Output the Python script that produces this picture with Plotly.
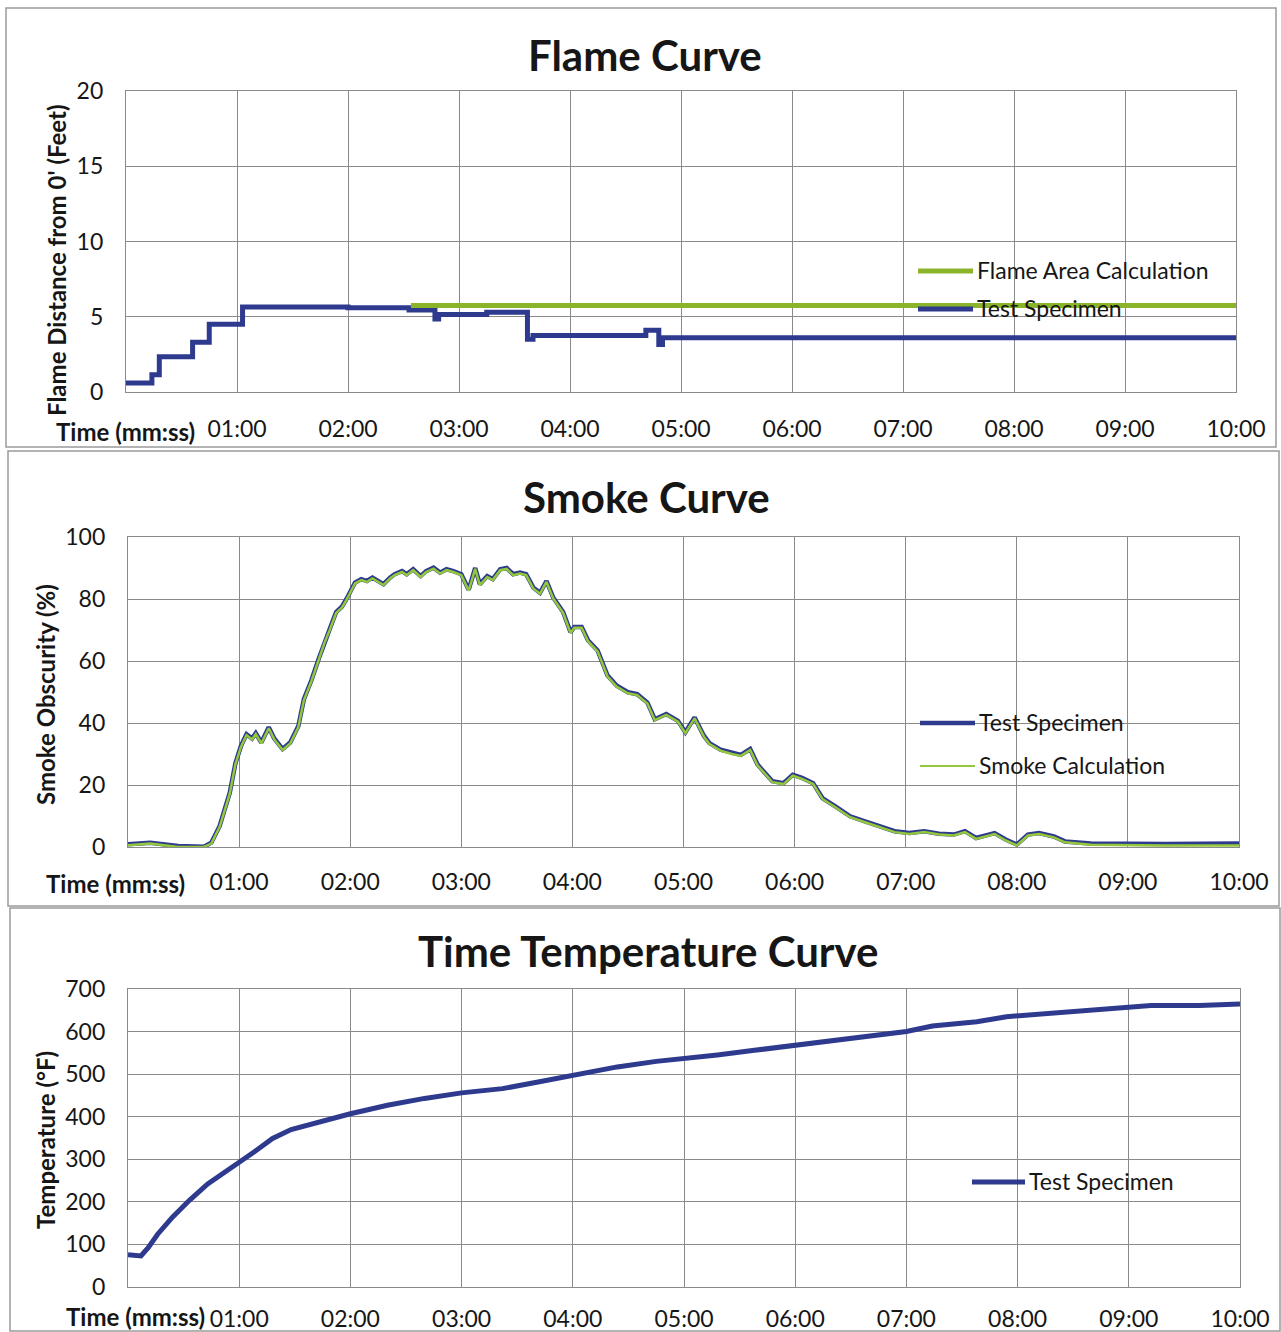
import plotly.graph_objects as go

# figure fills the 1281x1332 page (body margin removed in post_script)
W, H = 1281, 1332
OFF = 0

# ---------------- data ----------------
time_tickvals = [60, 120, 180, 240, 300, 360, 420, 480, 540, 600]
time_ticktext = ["01:00", "02:00", "03:00", "04:00", "05:00", "06:00", "07:00", "08:00", "09:00", "10:00"]

# Flame curve (seconds, feet) - step data
flame_time = [0, 14, 18, 36, 45, 63, 120, 153, 167, 169, 171, 195, 217, 220, 281, 288, 290, 600]
flame_specimen = [0.6, 1.15, 2.35, 3.3, 4.5, 5.65, 5.6, 5.45, 4.85, 5.15, 5.15, 5.3, 3.5, 3.75, 4.1, 3.15, 3.6, 3.7]
flame_calc_time = [154, 600]
flame_calc = [5.75, 5.75]

# Smoke curve (seconds, %)
smoke_time = [0, 12, 27, 41, 45, 49.5, 55, 58, 61, 64, 67, 69, 72, 76, 79, 83.5, 87.6, 92, 95, 99,
              103, 106, 109, 112.4, 115.5,
              118, 122.6, 126, 129, 132, 138, 141.5, 144, 148, 150.5, 154, 158, 161, 165, 168.5, 172,
              175.7, 180, 184, 187.5, 190, 194, 197, 201, 204.5, 208, 211.7, 215, 219, 222.5, 226, 229.7,
              235, 239, 241, 245, 248.5, 253.6, 259, 264, 270, 275, 280.5, 284.5, 290.7, 297, 301, 306,
              311, 314, 320, 326, 331, 336, 340, 348, 354, 359, 364, 370, 375, 382, 390, 398, 406, 414,
              422, 430, 438, 446, 452, 458, 468, 474, 480, 486, 492, 500, 506, 514, 520, 560, 600]
smoke_specimen = [0.9, 1.4, 0.3, 0.1, 1.4, 6.8, 17.6, 27, 32.6, 36.4, 35, 36.7, 33.7, 38.6, 35, 31.6, 33.7, 39, 47.7, 53.7,
                  60.7, 66, 70.4, 75.8, 77.5,
                  80, 85.3, 86.4, 85.8, 86.9, 84.8, 86.9, 88, 89, 88, 89.6, 87.4, 89, 90.1, 88.5, 89.6,
                  89, 88, 83, 90, 84.8, 87.4, 86.4, 89.6, 90, 88, 88.5, 88, 83.6, 82, 85.8, 80.4,
                  75.8, 69.3, 71, 71, 66.6, 63.4, 55.3, 52, 49.9, 49.3, 46.6, 41.2, 42.9, 40.7, 37, 41.8,
                  35.9, 33.5, 31.4, 30.3, 29.7, 31.6, 26.6, 21.2, 20.6, 23.3, 22.3, 20.6, 15.8, 13.1, 9.9, 8.3, 6.7, 5.1,
                  4.5, 5.1, 4.3, 4.0, 5.1, 2.9, 4.5, 2.4, 0.8, 4.0, 4.5, 3.4, 1.8, 1.3, 1.1, 1.0, 1.1]
smoke_calc = [0.6, 1.1, 0.0, 0.0, 1.1, 6.5, 17.3, 26.7, 32.3, 36.1, 34.7, 36.4, 33.4, 38.3, 34.7, 31.3, 33.4, 38.7, 47.4, 53.4,
              60.4, 65.7, 70.1, 75.5, 77.2,
              79.7, 85.0, 86.1, 85.5, 86.6, 84.5, 86.6, 87.7, 88.7, 87.7, 89.3, 87.1, 88.7, 89.8, 88.2, 89.3,
              88.7, 87.7, 82.7, 89.7, 84.5, 87.1, 86.1, 89.3, 89.7, 87.7, 88.2, 87.7, 83.3, 81.7, 85.5, 80.1,
              75.5, 69.0, 70.7, 70.7, 66.3, 63.1, 55.0, 51.7, 49.6, 49.0, 46.3, 40.9, 42.6, 40.4, 36.7, 41.5,
              35.6, 33.2, 31.1, 30.0, 29.4, 31.3, 26.3, 20.9, 20.3, 23.0, 22.0, 20.3, 15.5, 12.8, 9.6, 8.0, 6.4, 4.8,
              4.2, 4.8, 4.0, 3.7, 4.8, 2.6, 4.2, 2.1, 0.5, 3.7, 4.2, 3.1, 1.5, 1.0, 0.7, 0.5, 0.5]

# Time temperature curve (seconds, deg F)
temp_time = [0, 7, 11, 16, 24, 33, 43, 53, 60, 68, 78, 88, 103, 120, 140, 160, 180, 202, 222, 240,
             264, 285, 300, 318, 338, 360, 382, 402, 420, 434, 458, 474, 480, 498, 518, 540, 552, 578, 600]
temp_specimen = [76, 73, 93, 124, 164, 203, 242, 274, 293, 317, 349, 370, 388, 407, 427, 443, 456, 466, 482, 498,
                 517, 530, 536, 545, 556, 568, 578, 589, 600, 613, 623, 635, 637, 641, 648, 656, 661, 661, 665]

# ---------------- styling ----------------
BLUE = "#2E3A8E"
GREEN_FLAME = "#8AB52A"
GREEN_SMOKE = "#93C83C"
GRID = "#8a8a8a"
TXT = "#161616"
FONT = "Lato"


def PX(x):
    return (x - OFF) / W


def PY(y):
    return 1 - (y - OFF) / H


panels = {
    "flame": dict(l=126, r=1236, t=91, b=392),
    "smoke": dict(l=128, r=1239, t=537, b=847),
    "temp": dict(l=128, r=1240, t=989, b=1287),
}


def xd(p):
    return [PX(p["l"]), PX(p["r"])]


def yd(p):
    return [PY(p["b"]), PY(p["t"])]


fig = go.Figure()
fig.add_trace(go.Scatter(x=flame_time, y=flame_specimen, mode="lines", line=dict(color=BLUE, width=5, shape="hv"),
                         name="Test Specimen", xaxis="x", yaxis="y"))
fig.add_trace(go.Scatter(x=flame_calc_time, y=flame_calc, mode="lines", line=dict(color=GREEN_FLAME, width=5),
                         name="Flame Area Calculation", xaxis="x", yaxis="y"))
fig.add_trace(go.Scatter(x=smoke_time, y=smoke_specimen, mode="lines", line=dict(color=BLUE, width=4.5),
                         name="Test Specimen", xaxis="x2", yaxis="y2"))
fig.add_trace(go.Scatter(x=smoke_time, y=smoke_calc, mode="lines", line=dict(color=GREEN_SMOKE, width=2.5),
                         name="Smoke Calculation", xaxis="x2", yaxis="y2"))
fig.add_trace(go.Scatter(x=temp_time, y=temp_specimen, mode="lines", line=dict(color=BLUE, width=5),
                         name="Test Specimen", xaxis="x3", yaxis="y3"))

TICKSIZE = 23
common_x = dict(range=[0, 600], tickvals=time_tickvals, ticktext=time_ticktext, showgrid=True,
                gridcolor=GRID, gridwidth=1.3, showline=True, linecolor=GRID, linewidth=1.3, mirror=True,
                ticks="", zeroline=False, tickfont=dict(family=FONT, size=TICKSIZE, color=TXT), fixedrange=True,
                automargin=False, ticklabeloverflow="allow")
common_y = dict(showgrid=True, gridcolor=GRID, gridwidth=1.3, showline=True, linecolor=GRID, linewidth=1.3,
                mirror=True, ticks="", zeroline=False, tickfont=dict(family=FONT, size=TICKSIZE, color=TXT),
                ticklabelstandoff=17, fixedrange=True, automargin=False, ticklabeloverflow="allow")

fig.update_layout(
    width=W, height=H, margin=dict(l=0, r=0, t=0, b=0, pad=0, autoexpand=False),
    paper_bgcolor="white", plot_bgcolor="white",
    font=dict(family=FONT, color=TXT),
    showlegend=False,
    xaxis=dict(domain=xd(panels["flame"]), anchor="y", ticklabelstandoff=16, **common_x),
    yaxis=dict(domain=yd(panels["flame"]), anchor="x", range=[0, 20], tickvals=[0, 5, 10, 15, 20], **common_y),
    xaxis2=dict(domain=xd(panels["smoke"]), anchor="y2", ticklabelstandoff=14, **common_x),
    yaxis2=dict(domain=yd(panels["smoke"]), anchor="x2", range=[0, 100], tickvals=[0, 20, 40, 60, 80, 100], **common_y),
    xaxis3=dict(domain=xd(panels["temp"]), anchor="y3", ticklabelstandoff=11, **common_x),
    yaxis3=dict(domain=yd(panels["temp"]), anchor="x3", range=[0, 700],
                tickvals=[0, 100, 200, 300, 400, 500, 600, 700], **common_y),
)


def ann(text, x, y, size, bold=False, xanchor="center", angle=0):
    fig.add_annotation(text=f"<b>{text}</b>" if bold else text, x=PX(x), y=PY(y), xref="paper", yref="paper",
                       showarrow=False, xanchor=xanchor, yanchor="middle", textangle=angle,
                       font=dict(family=FONT, size=size, color=TXT), borderpad=0)


ann("Flame Curve", 645, 55, 42, bold=True)
ann("Smoke Curve", 646, 497, 42, bold=True)
ann("Time Temperature Curve", 648, 951, 42, bold=True)
ann("Flame Distance from 0' (Feet)", 57, 260, 24, bold=True, angle=-90)
ann("Smoke Obscurity (%)", 45, 695, 24, bold=True, angle=-90)
ann("Temperature (°F)", 45, 1140, 24, bold=True, angle=-90)
ann("Time (mm:ss)", 196, 431, 24, bold=True, xanchor="right")
ann("Time (mm:ss)", 186, 883, 24, bold=True, xanchor="right")
ann("Time (mm:ss)", 206, 1316, 24, bold=True, xanchor="right")

# Legends: line swatch + label
legend_items = [
    (918, 973, 271, GREEN_FLAME, 5, "Flame Area Calculation"),
    (918, 973, 309, BLUE, 5, "Test Specimen"),
    (920, 975, 723, BLUE, 4.5, "Test Specimen"),
    (920, 975, 766, GREEN_SMOKE, 2, "Smoke Calculation"),
    (972, 1025, 1182, BLUE, 5, "Test Specimen"),
]
for x0, x1, y, col, wd, label in legend_items:
    fig.add_shape(type="line", xref="paper", yref="paper", x0=PX(x0), x1=PX(x1), y0=PY(y), y1=PY(y),
                  line=dict(color=col, width=wd))
    ann(label, x1 + 3, y - 1, 23, xanchor="left")

# Panel borders
for (x0, y0, x1, y1) in [(6, 8, 1276, 447), (8, 451, 1279, 906), (10, 908, 1280, 1331)]:
    fig.add_shape(type="rect", xref="paper", yref="paper", x0=PX(x0), x1=PX(x1), y0=PY(y1), y1=PY(y0),
                  line=dict(color="#9a9a9a", width=1.5), layer="below")

fig.write_html("out.html", config={"displayModeBar": False},
               post_script="document.body.style.margin='0';document.documentElement.style.overflow='hidden';")
